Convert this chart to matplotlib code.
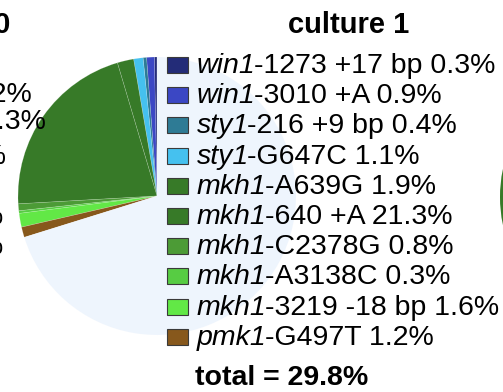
import matplotlib
matplotlib.use("Agg")
import matplotlib.pyplot as plt
from matplotlib.patches import Rectangle

plt.rcParams["font.family"] = ["Liberation Sans", "DejaVu Sans"]

# culture 1 mutations (allele frequency, %)
genes = ["win1", "win1", "sty1", "sty1", "mkh1", "mkh1", "mkh1", "mkh1", "mkh1", "pmk1"]
alleles = ["1273 +17 bp", "3010 +A", "216 +9 bp", "G647C", "A639G",
           "640 +A", "C2378G", "A3138C", "3219 -18 bp", "G497T"]
freqs = [0.3, 0.9, 0.4, 1.1, 1.9, 21.3, 0.8, 0.3, 1.6, 1.2]
colors = ["#232C78", "#3B47C4", "#2E7B95", "#45C1EF", "#377A28",
          "#377A28", "#4C9B36", "#57CC43", "#62E846", "#87581C"]
rest_color = "#EEF5FD"
title = "culture 1"

# neighbouring panels (cut at the figure edges)
left_title = "culture 0"
left_labels = ["1.2%", "1.3%", "1%", "%", "%"]
left_label_rows = [95, 122, 157, 217, 247]
left_label_right = [33, 47, 7, 3, 3]
right_color = "#377A28"

W, H = 503, 392
fig = plt.figure(figsize=(W / 100, H / 100), dpi=100)
ax = fig.add_axes([0, 0, 1, 1])


def Y(v):
    return H - v


total = round(sum(freqs), 1)
values = freqs + [100 - total]
cx, cy, r = 157, 196, 139
ax.pie(values, colors=colors + [rest_color], startangle=90, counterclock=True,
       center=(cx, Y(cy)), radius=r, frame=True,
       wedgeprops=dict(edgecolor=(1, 1, 1, 0.25), linewidth=0.4))

# next panel's pie, only its left rim shows
ax.pie([1], colors=[right_color], center=(500 + r, Y(197)), radius=r, frame=True)

# legend: swatch, italic gene name, then the allele and its frequency
fs = 20.5
row0, step = 73, 30.2
for i, (g, a, f, c) in enumerate(zip(genes, alleles, freqs, colors)):
    base = row0 + i * step
    ax.add_patch(Rectangle((167, Y(base)), 21, 16, facecolor=c,
                           edgecolor="#3a3a3a", linewidth=0.8, zorder=5))
    gene_txt = ax.text(197, Y(base), g, fontsize=fs, style="italic",
                       va="baseline", ha="left", zorder=6)
    ax.annotate(f"-{a} {f}%", xy=(1, 0), xycoords=gene_txt,
                xytext=(-1.5, 0), textcoords="offset points", fontsize=fs,
                va="bottom", ha="left", zorder=6)

ax.text(282, Y(385), f"total = {total}%", fontsize=20.5, fontweight="bold",
        ha="center", va="baseline")
ax.text(349, Y(33), title, fontsize=21, fontweight="bold",
        ha="center", va="baseline")

# neighbouring left panel text
ax.text(10, Y(33), left_title, fontsize=21, fontweight="bold",
        ha="right", va="baseline")
for lbl, yy, xr in zip(left_labels, left_label_rows, left_label_right):
    ax.text(xr, Y(yy), lbl, fontsize=fs, ha="right", va="center")

ax.set_xlim(0, W)
ax.set_ylim(0, H)
ax.set_aspect("equal")
ax.axis("off")
fig.savefig("out.png", dpi=100)
